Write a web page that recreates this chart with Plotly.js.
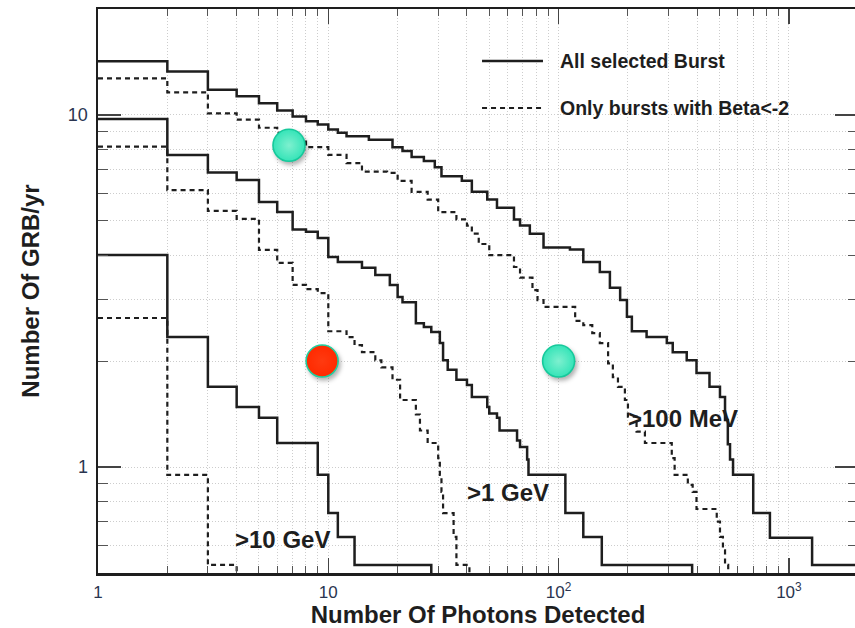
<!DOCTYPE html>
<html>
<head>
<meta charset="utf-8">
<script src="https://cdn.plot.ly/plotly-3.0.1.min.js"></script>
<style>
  html, body { margin: 0; padding: 0; overflow: hidden; background: #ffffff; }
  #chart { width: 858px; height: 628px; }
  #chart .scatterlayer .trace:last-child .points path {
    filter: drop-shadow(2px 3px 2px rgba(0, 0, 0, 0.30));
  }
</style>
</head>
<body>
<div id="chart"></div>
<script>
// Cumulative GRB rate (bursts per year) versus number of photons detected,
// for three energy thresholds; solid = all selected bursts, dashed = Beta < -2.

// >100 MeV, all selected bursts
const mev100AllX = [1,2,3,4,5,6,7,8,9,10,11,12,15,19,21,23,26,29,31,38,42,49,54,64,68,75,86,112,128,151,167,185,198,208,241,295,313,360,397,452,502,528,543,555,572,700,827,1261,2500];
const mev100AllY = [14.2,13.3,11.8,11.3,10.8,10.3,9.9,9.6,9.4,9.1,8.9,8.7,8.5,8.1,7.9,7.6,7.4,7.1,6.7,6.5,6.05,5.75,5.45,5.05,4.85,4.6,4.2,4.15,3.82,3.58,3.23,2.98,2.67,2.43,2.34,2.25,2.12,2.01,1.85,1.69,1.58,1.36,1.16,1.05,0.95,0.74,0.63,0.527,0.527];

// >100 MeV, only bursts with Beta < -2
const mev100SteepX = [1,2,3,4,5,6,7,8,10,12,14,18,20,23,27,30,36,40,42,45,50,64,68,77,81,86,118,128,140,151,164,172,181,194,200,218,237,310,319,364,382,397,486,502,517,528,545];
const mev100SteepY = [12.7,11.6,10.1,9.7,9.2,8.9,8.5,8.1,7.7,7.3,6.9,6.85,6.5,6.05,5.75,5.3,5.05,4.85,4.6,4.3,4.0,3.7,3.45,3.18,2.98,2.85,2.6,2.53,2.4,2.25,1.97,1.8,1.69,1.55,1.39,1.26,1.17,1.06,0.95,0.89,0.85,0.76,0.7,0.633,0.58,0.527,0.01];

// >1 GeV, all selected bursts
const gev1AllX = [1,2,3,4,5,6,7,8,9,10,11,14,16,18.5,20,21,24,26,28,30.5,31.5,33,36,40,42,49,50,54,55.4,66,68,73,74,107,128,154,380];
const gev1AllY = [9.74,7.7,6.86,6.54,5.66,5.3,4.73,4.66,4.47,3.95,3.82,3.68,3.51,3.29,3.04,2.94,2.56,2.5,2.42,2.25,2.01,1.89,1.77,1.71,1.58,1.48,1.42,1.38,1.27,1.19,1.14,1.05,0.95,0.74,0.633,0.527,0.01];

// >1 GeV, only bursts with Beta < -2
const gev1SteepX = [1,2,3,4,5,6,7,8,9,10,12,13,14,16,17,19,20.5,24,25,27,30,30.5,31,31.5,35,36,41];
const gev1SteepY = [8.13,6.12,5.34,5.07,4.14,3.8,3.29,3.2,3.12,2.43,2.34,2.22,2.12,2.01,1.92,1.77,1.55,1.41,1.27,1.17,1.06,0.95,0.85,0.74,0.633,0.527,0.01];

// >10 GeV, all selected bursts
const gev10AllX = [1,2,3,4,5,6,9,10,11,13,28];
const gev10AllY = [4.0,2.34,1.69,1.48,1.38,1.17,0.95,0.74,0.633,0.527,0.01];

// >10 GeV, only bursts with Beta < -2
const gev10SteepX = [1,2,3,4];
const gev10SteepY = [2.65,0.95,0.527,0.01];

// Highlight dots
const dotX = [6.75, 9.4, 100];
const dotY = [8.2, 2.0, 2.0];
const dotFill = ['#35e4b8', '#ff2a00', '#35e4b8'];
const dotEdge = ['#16c99b', '#1fcf9f', '#16c99b'];
const dotGlow = ['#7ef0cf', '#ff3a10', '#7ef0cf'];

// Curve labels
const curveLabels = ['>100 MeV', '>1 GeV', '>10 GeV'];
const curveLabelX = [347, 60, 6.3];
const curveLabelY = [1.378, 0.849, 0.624];

// Axis ticks
const xTickVals = [1, 10, 100, 1000];
const xTickText = ['1', '10', '10<sup>2</sup>', '10<sup>3</sup>'];
const xMinorVals = [2,3,4,5,6,7,8,9,20,30,40,50,60,70,80,90,200,300,400,500,600,700,800,900,2000];
const yTickVals = [1, 10];
const yTickText = ['1', '10'];
const yMinorVals = [0.6,0.7,0.8,0.9,2,3,4,5,6,7,8,9];

// Legend entries
const legendText = ['All selected Burst', 'Only bursts with Beta&lt;-2'];

const FONT = '"Liberation Sans", Arial, Helvetica, sans-serif';
const INK = '#1e1e1e';

function stepTrace(x, y, dashed) {
  return {
    x: x, y: y, type: 'scatter', mode: 'lines',
    line: { shape: 'hv', color: INK, width: dashed ? 2.2 : 2.5, dash: dashed ? '5px,4px' : 'solid' },
    hoverinfo: 'skip', showlegend: false
  };
}

const traces = [
  stepTrace(mev100AllX, mev100AllY, false),
  stepTrace(mev100SteepX, mev100SteepY, true),
  stepTrace(gev1AllX, gev1AllY, false),
  stepTrace(gev1SteepX, gev1SteepY, true),
  stepTrace(gev10AllX, gev10AllY, false),
  stepTrace(gev10SteepX, gev10SteepY, true),
  {
    x: dotX, y: dotY, type: 'scatter', mode: 'markers', showlegend: false, hoverinfo: 'skip',
    marker: {
      size: 32, color: dotFill,
      line: { color: dotEdge, width: 1.6 },
      gradient: { type: 'radial', color: dotGlow }
    }
  }
];

const gridStyle = { gridcolor: '#cdcdcd', griddash: '1px,2px', gridwidth: 1 };

const layout = {
  width: 858, height: 628,
  margin: { l: 98, r: 0, t: 9, b: 55 },
  paper_bgcolor: '#ffffff', plot_bgcolor: '#ffffff',
  font: { family: FONT, color: INK },
  xaxis: Object.assign({
    type: 'log', range: [0, 3.3], autorange: false,
    tickmode: 'array', tickvals: xTickVals, ticktext: xTickText,
    ticks: 'inside', ticklen: 15, tickwidth: 1.4, tickcolor: '#444',
    mirror: 'ticks', showline: true, linewidth: 2.5, linecolor: INK,
    showgrid: true, zeroline: false, ticklabelstandoff: 2,
    tickfont: { family: FONT, size: 17, color: '#2a3550' },
    minor: Object.assign({ tickmode: 'array', tickvals: xMinorVals, ticks: 'inside', ticklen: 7,
      tickwidth: 1, tickcolor: '#555', showgrid: true }, gridStyle),
    title: { text: 'Number Of Photons Detected', standoff: 17,
      font: { family: FONT, size: 24, weight: 'bold', color: INK } }
  }, gridStyle),
  yaxis: Object.assign({
    type: 'log', range: [Math.log10(0.5), Math.log10(20)], autorange: false,
    tickmode: 'array', tickvals: yTickVals, ticktext: yTickText,
    ticks: 'inside', ticklen: 23, tickwidth: 1.4, tickcolor: '#444',
    mirror: 'ticks', showline: true, linewidth: 2.5, linecolor: INK,
    showgrid: true, zeroline: false, ticklabelstandoff: 4,
    tickfont: { family: FONT, size: 18, color: '#2a3550' },
    minor: Object.assign({ tickmode: 'array', tickvals: yMinorVals, ticks: 'inside', ticklen: 10,
      tickwidth: 1, tickcolor: '#555', showgrid: true }, gridStyle),
    title: { text: 'Number Of GRB/yr', standoff: 22,
      font: { family: FONT, size: 24, weight: 'bold', color: INK } }
  }, gridStyle),
  shapes: [
    { type: 'line', xref: 'paper', yref: 'paper', x0: 0.5053, x1: 0.5855, y0: 0.9078, y1: 0.9078,
      line: { color: INK, width: 2.4 } },
    { type: 'line', xref: 'paper', yref: 'paper', x0: 0.5053, x1: 0.5855, y0: 0.8245, y1: 0.8245,
      line: { color: INK, width: 2.2, dash: '5px,4px' } }
  ],
  annotations: [
    { xref: 'paper', yref: 'paper', x: 0.605, y: 0.9078, xanchor: 'left', yanchor: 'middle',
      text: legendText[0], showarrow: false, font: { family: FONT, size: 19.5, weight: 'bold', color: INK } },
    { xref: 'paper', yref: 'paper', x: 0.605, y: 0.8245, xanchor: 'left', yanchor: 'middle',
      text: legendText[1], showarrow: false, font: { family: FONT, size: 19.5, weight: 'bold', color: INK } }
  ].concat(curveLabels.map((t, i) => ({
    xref: 'x', yref: 'y', x: Math.log10(curveLabelX[i]), y: Math.log10(curveLabelY[i]),
    xanchor: 'center', yanchor: 'middle', text: t.replace('>', '&gt;'), showarrow: false,
    font: { family: FONT, size: 24, weight: 'bold', color: INK }
  })))
};

Plotly.newPlot('chart', traces, layout, { displayModeBar: false, staticPlot: true });
</script>
</body>
</html>
